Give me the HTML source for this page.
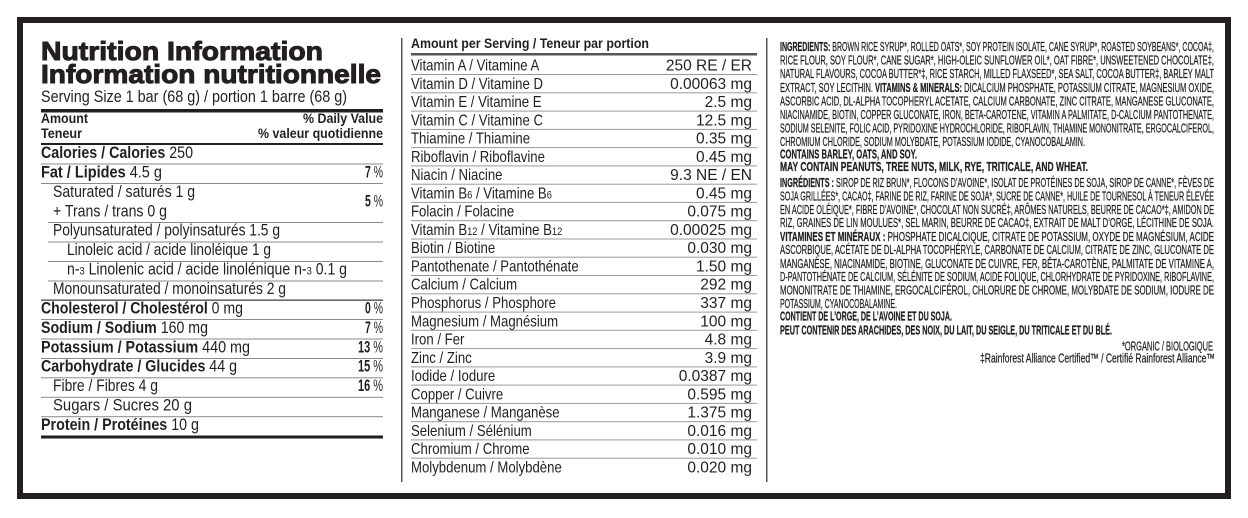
<!DOCTYPE html>
<html><head><meta charset="utf-8"><style>
html,body{margin:0;padding:0;background:#fff;}
svg{display:block;}
text{font-family:"Liberation Sans",Arial,sans-serif;fill:#231f20;}
.b{font-weight:bold;}
.r text{font-size:12.5px;stroke:#231f20;stroke-width:0.25;}
.t{stroke:#231f20;stroke-width:1;}
</style></head><body>
<svg width="1248" height="518" viewBox="0 0 1248 518" xmlns="http://www.w3.org/2000/svg">
<rect x="20" y="20" width="1208" height="476" fill="#fff" stroke="#231f20" stroke-width="6"/>

<!-- LEFT COLUMN -->
<text x="41" y="60" font-size="26" class="b t" textLength="282" lengthAdjust="spacingAndGlyphs">Nutrition Information</text>
<text x="41" y="83" font-size="26" class="b t" textLength="340" lengthAdjust="spacingAndGlyphs">Information nutritionnelle</text>
<text x="41" y="102" font-size="16.5" textLength="306" lengthAdjust="spacingAndGlyphs">Serving Size 1 bar (68 g) / portion 1 barre (68 g)</text>
<rect x="41" y="109" width="342" height="3.5" fill="#231f20"/>
<text x="41" y="123" font-size="13.5" class="b" textLength="47" lengthAdjust="spacingAndGlyphs">Amount</text>
<text x="383" y="123" font-size="13.5" class="b" text-anchor="end" textLength="80" lengthAdjust="spacingAndGlyphs">% Daily Value</text>
<text x="41" y="138" font-size="13.5" class="b" textLength="41" lengthAdjust="spacingAndGlyphs">Teneur</text>
<text x="383" y="138" font-size="13.5" class="b" text-anchor="end" textLength="125" lengthAdjust="spacingAndGlyphs">% valeur quotidienne</text>
<rect x="41" y="143" width="342" height="2" fill="#231f20"/>

<g font-size="16.5">
<text x="41" y="158" textLength="152" lengthAdjust="spacingAndGlyphs"><tspan class="b">Calories / Calories</tspan> 250</text>
<text x="41" y="177.4" textLength="121" lengthAdjust="spacingAndGlyphs"><tspan class="b">Fat / Lipides</tspan> 4.5 g</text>
<text x="53" y="196.9" textLength="142" lengthAdjust="spacingAndGlyphs">Saturated / saturés 1 g</text>
<text x="53" y="216.3" textLength="114" lengthAdjust="spacingAndGlyphs">+ Trans / trans 0 g</text>
<text x="53" y="235.7" textLength="227" lengthAdjust="spacingAndGlyphs">Polyunsaturated / polyinsaturés 1.5 g</text>
<text x="67" y="255.2" textLength="204" lengthAdjust="spacingAndGlyphs">Linoleic acid / acide linoléique 1 g</text>
<text x="67" y="274.6" textLength="280" lengthAdjust="spacingAndGlyphs">n-<tspan font-size="11">3</tspan> Linolenic acid / acide linolénique n-<tspan font-size="11">3</tspan> 0.1 g</text>
<text x="53" y="294" textLength="233" lengthAdjust="spacingAndGlyphs">Monounsaturated / monoinsaturés 2 g</text>
<text x="41" y="313.4" textLength="202" lengthAdjust="spacingAndGlyphs"><tspan class="b">Cholesterol / Cholestérol</tspan> 0 mg</text>
<text x="41" y="332.9" textLength="167" lengthAdjust="spacingAndGlyphs"><tspan class="b">Sodium / Sodium</tspan> 160 mg</text>
<text x="41" y="352.3" textLength="209" lengthAdjust="spacingAndGlyphs"><tspan class="b">Potassium / Potassium</tspan> 440 mg</text>
<text x="41" y="371.7" textLength="196" lengthAdjust="spacingAndGlyphs"><tspan class="b">Carbohydrate / Glucides</tspan> 44 g</text>
<text x="53" y="391.2" textLength="105" lengthAdjust="spacingAndGlyphs">Fibre / Fibres 4 g</text>
<text x="53" y="410.6" textLength="139" lengthAdjust="spacingAndGlyphs">Sugars / Sucres 20 g</text>
<text x="41" y="430" textLength="158" lengthAdjust="spacingAndGlyphs"><tspan class="b">Protein / Protéines</tspan> 10 g</text>

<text x="383" y="177.4" text-anchor="end" textLength="18" lengthAdjust="spacingAndGlyphs"><tspan class="b">7</tspan> %</text>
<text x="383" y="206.5" text-anchor="end" textLength="18" lengthAdjust="spacingAndGlyphs"><tspan class="b">5</tspan> %</text>
<text x="383" y="313.4" text-anchor="end" textLength="18" lengthAdjust="spacingAndGlyphs"><tspan class="b">0</tspan> %</text>
<text x="383" y="332.9" text-anchor="end" textLength="18" lengthAdjust="spacingAndGlyphs"><tspan class="b">7</tspan> %</text>
<text x="383" y="352.3" text-anchor="end" textLength="25" lengthAdjust="spacingAndGlyphs"><tspan class="b">13</tspan> %</text>
<text x="383" y="371.7" text-anchor="end" textLength="25" lengthAdjust="spacingAndGlyphs"><tspan class="b">15</tspan> %</text>
<text x="383" y="391.2" text-anchor="end" textLength="25" lengthAdjust="spacingAndGlyphs"><tspan class="b">16</tspan> %</text>
</g>
<g fill="#8a8a8a">
<rect x="41" y="163.5" width="342" height="1"/>
<rect x="41" y="183" width="342" height="1"/>
<rect x="48" y="222" width="335" height="1"/>
<rect x="48" y="241.5" width="335" height="1"/>
<rect x="48" y="261" width="335" height="1"/>
<rect x="48" y="280.5" width="335" height="1"/>
<rect x="41" y="299.5" width="342" height="1.3" fill="#444"/>
<rect x="41" y="319" width="342" height="1"/>
<rect x="41" y="338.5" width="342" height="1"/>
<rect x="41" y="358" width="342" height="1"/>
<rect x="41" y="377.3" width="342" height="1"/>
<rect x="41" y="396.8" width="342" height="1"/>
<rect x="41" y="416.2" width="342" height="1"/>
</g>
<rect x="41" y="435.5" width="342" height="3" fill="#231f20"/>

<!-- MIDDLE COLUMN -->
<rect x="401" y="38" width="1.5" height="444" fill="#555"/>
<rect x="766" y="38" width="1.5" height="444" fill="#555"/>
<text x="411" y="48" font-size="13.5" class="b" textLength="238" lengthAdjust="spacingAndGlyphs">Amount per Serving / Teneur par portion</text>
<rect x="411" y="53" width="346" height="2.5" fill="#555"/>
<g font-size="15.5">
<g transform="translate(411,0) scale(0.85,1)">
<text x="0" y="70.5">Vitamin A / Vitamine A</text>
<text x="0" y="88.8">Vitamin D / Vitamine D</text>
<text x="0" y="107">Vitamin E / Vitamine E</text>
<text x="0" y="125.3">Vitamin C / Vitamine C</text>
<text x="0" y="143.6">Thiamine / Thiamine</text>
<text x="0" y="161.9">Riboflavin / Riboflavine</text>
<text x="0" y="180.1">Niacin / Niacine</text>
<text x="0" y="198.4">Vitamin B<tspan font-size="11">6</tspan> / Vitamine B<tspan font-size="11">6</tspan></text>
<text x="0" y="216.7">Folacin / Folacine</text>
<text x="0" y="234.9">Vitamin B<tspan font-size="11">12</tspan> / Vitamine B<tspan font-size="11">12</tspan></text>
<text x="0" y="253.2">Biotin / Biotine</text>
<text x="0" y="271.5">Pantothenate / Pantothénate</text>
<text x="0" y="289.7">Calcium / Calcium</text>
<text x="0" y="308">Phosphorus / Phosphore</text>
<text x="0" y="326.3">Magnesium / Magnésium</text>
<text x="0" y="344.6">Iron / Fer</text>
<text x="0" y="362.8">Zinc / Zinc</text>
<text x="0" y="381.1">Iodide / Iodure</text>
<text x="0" y="399.4">Copper / Cuivre</text>
<text x="0" y="417.6">Manganese / Manganèse</text>
<text x="0" y="435.9">Selenium / Sélénium</text>
<text x="0" y="454.2">Chromium / Chrome</text>
<text x="0" y="472.4">Molybdenum / Molybdène</text>
</g>
<g transform="translate(752,0) scale(1.0,1)" text-anchor="end">
<text x="0" y="70.5">250 RE / ER</text>
<text x="0" y="88.8">0.00063 mg</text>
<text x="0" y="107">2.5 mg</text>
<text x="0" y="125.3">12.5 mg</text>
<text x="0" y="143.6">0.35 mg</text>
<text x="0" y="161.9">0.45 mg</text>
<text x="0" y="180.1">9.3 NE / EN</text>
<text x="0" y="198.4">0.45 mg</text>
<text x="0" y="216.7">0.075 mg</text>
<text x="0" y="234.9">0.00025 mg</text>
<text x="0" y="253.2">0.030 mg</text>
<text x="0" y="271.5">1.50 mg</text>
<text x="0" y="289.7">292 mg</text>
<text x="0" y="308">337 mg</text>
<text x="0" y="326.3">100 mg</text>
<text x="0" y="344.6">4.8 mg</text>
<text x="0" y="362.8">3.9 mg</text>
<text x="0" y="381.1">0.0387 mg</text>
<text x="0" y="399.4">0.595 mg</text>
<text x="0" y="417.6">1.375 mg</text>
<text x="0" y="435.9">0.016 mg</text>
<text x="0" y="454.2">0.010 mg</text>
<text x="0" y="472.4">0.020 mg</text>
</g>
</g>
<g fill="#999">
<rect x="411" y="74" width="346" height="1"/>
<rect x="411" y="92.3" width="346" height="1"/>
<rect x="411" y="110.6" width="346" height="1"/>
<rect x="411" y="128.9" width="346" height="1"/>
<rect x="411" y="147.1" width="346" height="1"/>
<rect x="411" y="165.4" width="346" height="1"/>
<rect x="411" y="183.7" width="346" height="1"/>
<rect x="411" y="201.9" width="346" height="1"/>
<rect x="411" y="220.2" width="346" height="1"/>
<rect x="411" y="238.5" width="346" height="1"/>
<rect x="411" y="256.7" width="346" height="1"/>
<rect x="411" y="275" width="346" height="1"/>
<rect x="411" y="293.3" width="346" height="1"/>
<rect x="411" y="311.6" width="346" height="1"/>
<rect x="411" y="329.8" width="346" height="1"/>
<rect x="411" y="348.1" width="346" height="1"/>
<rect x="411" y="366.4" width="346" height="1"/>
<rect x="411" y="384.6" width="346" height="1"/>
<rect x="411" y="402.9" width="346" height="1"/>
<rect x="411" y="421.2" width="346" height="1"/>
<rect x="411" y="439.4" width="346" height="1"/>
<rect x="411" y="457.7" width="346" height="1"/>
</g>

<!-- RIGHT COLUMN -->
<g class="r">
<text x="780" y="51" textLength="434" lengthAdjust="spacingAndGlyphs"><tspan class="b">INGREDIENTS:</tspan> BROWN RICE SYRUP*, ROLLED OATS*, SOY PROTEIN ISOLATE, CANE SYRUP*, ROASTED SOYBEANS*, COCOA‡,</text>
<text x="780" y="64.6" textLength="434" lengthAdjust="spacingAndGlyphs">RICE FLOUR, SOY FLOUR*, CANE SUGAR*, HIGH-OLEIC SUNFLOWER OIL*, OAT FIBRE*, UNSWEETENED CHOCOLATE‡,</text>
<text x="780" y="78.2" textLength="434" lengthAdjust="spacingAndGlyphs">NATURAL FLAVOURS, COCOA BUTTER*‡, RICE STARCH, MILLED FLAXSEED*, SEA SALT, COCOA BUTTER‡, BARLEY MALT</text>
<text x="780" y="91.8" textLength="434" lengthAdjust="spacingAndGlyphs">EXTRACT, SOY LECITHIN. <tspan class="b">VITAMINS &amp; MINERALS:</tspan> DICALCIUM PHOSPHATE, POTASSIUM CITRATE, MAGNESIUM OXIDE,</text>
<text x="780" y="105.4" textLength="434" lengthAdjust="spacingAndGlyphs">ASCORBIC ACID, DL-ALPHA TOCOPHERYL ACETATE, CALCIUM CARBONATE, ZINC CITRATE, MANGANESE GLUCONATE,</text>
<text x="780" y="119" textLength="434" lengthAdjust="spacingAndGlyphs">NIACINAMIDE, BIOTIN, COPPER GLUCONATE, IRON, BETA-CAROTENE, VITAMIN A PALMITATE, D-CALCIUM PANTOTHENATE,</text>
<text x="780" y="132.6" textLength="434" lengthAdjust="spacingAndGlyphs">SODIUM SELENITE, FOLIC ACID, PYRIDOXINE HYDROCHLORIDE, RIBOFLAVIN, THIAMINE MONONITRATE, ERGOCALCIFEROL,</text>
<text x="780" y="146.2" textLength="305" lengthAdjust="spacingAndGlyphs">CHROMIUM CHLORIDE, SODIUM MOLYBDATE, POTASSIUM IODIDE, CYANOCOBALAMIN.</text>
<text x="780" y="158.5" class="b" textLength="137" lengthAdjust="spacingAndGlyphs">CONTAINS BARLEY, OATS, AND SOY.</text>
<text x="780" y="171.2" class="b" textLength="308" lengthAdjust="spacingAndGlyphs">MAY CONTAIN PEANUTS, TREE NUTS, MILK, RYE, TRITICALE, AND WHEAT.</text>
<text x="780" y="187.2" textLength="434" lengthAdjust="spacingAndGlyphs"><tspan class="b">INGRÉDIENTS :</tspan> SIROP DE RIZ BRUN*, FLOCONS D’AVOINE*, ISOLAT DE PROTÉINES DE SOJA, SIROP DE CANNE*, FÈVES DE</text>
<text x="780" y="200.5" textLength="434" lengthAdjust="spacingAndGlyphs">SOJA GRILLÉES*, CACAO‡, FARINE DE RIZ, FARINE DE SOJA*, SUCRE DE CANNE*, HUILE DE TOURNESOL À TENEUR ÉLEVÉE</text>
<text x="780" y="213.8" textLength="434" lengthAdjust="spacingAndGlyphs">EN ACIDE OLÉIQUE*, FIBRE D’AVOINE*, CHOCOLAT NON SUCRÉ‡, ARÔMES NATURELS, BEURRE DE CACAO*‡, AMIDON DE</text>
<text x="780" y="227.2" textLength="434" lengthAdjust="spacingAndGlyphs">RIZ, GRAINES DE LIN MOULUES*, SEL MARIN, BEURRE DE CACAO‡, EXTRAIT DE MALT D’ORGE, LÉCITHINE DE SOJA.</text>
<text x="780" y="241.2" textLength="434" lengthAdjust="spacingAndGlyphs"><tspan class="b">VITAMINES ET MINÉRAUX :</tspan> PHOSPHATE DICALCIQUE, CITRATE DE POTASSIUM, OXYDE DE MAGNÉSIUM, ACIDE</text>
<text x="780" y="253.8" textLength="434" lengthAdjust="spacingAndGlyphs">ASCORBIQUE, ACÉTATE DE DL-ALPHA TOCOPHÉRYLE, CARBONATE DE CALCIUM, CITRATE DE ZINC, GLUCONATE DE</text>
<text x="780" y="267.8" textLength="434" lengthAdjust="spacingAndGlyphs">MANGANÈSE, NIACINAMIDE, BIOTINE, GLUCONATE DE CUIVRE, FER, BÊTA-CAROTÈNE, PALMITATE DE VITAMINE A,</text>
<text x="780" y="281.2" textLength="434" lengthAdjust="spacingAndGlyphs">D-PANTOTHÉNATE DE CALCIUM, SÉLÉNITE DE SODIUM, ACIDE FOLIQUE, CHLORHYDRATE DE PYRIDOXINE, RIBOFLAVINE,</text>
<text x="780" y="294.5" textLength="434" lengthAdjust="spacingAndGlyphs">MONONITRATE DE THIAMINE, ERGOCALCIFÉROL, CHLORURE DE CHROME, MOLYBDATE DE SODIUM, IODURE DE</text>
<text x="780" y="307.8" textLength="117" lengthAdjust="spacingAndGlyphs">POTASSIUM, CYANOCOBALAMINE.</text>
<text x="780" y="320.5" class="b" textLength="172" lengthAdjust="spacingAndGlyphs">CONTIENT DE L’ORGE, DE L’AVOINE ET DU SOJA.</text>
<text x="780" y="334.5" class="b" textLength="332" lengthAdjust="spacingAndGlyphs">PEUT CONTENIR DES ARACHIDES, DES NOIX, DU LAIT, DU SEIGLE, DU TRITICALE ET DU BLÉ.</text>
<text x="1213" y="350.5" text-anchor="end" textLength="91" lengthAdjust="spacingAndGlyphs">*ORGANIC / BIOLOGIQUE</text>
<text x="1215" y="362.5" text-anchor="end" textLength="235" lengthAdjust="spacingAndGlyphs">‡Rainforest Alliance Certified™ / Certifié Rainforest Alliance™</text>
</g>
</svg>
</body></html>
